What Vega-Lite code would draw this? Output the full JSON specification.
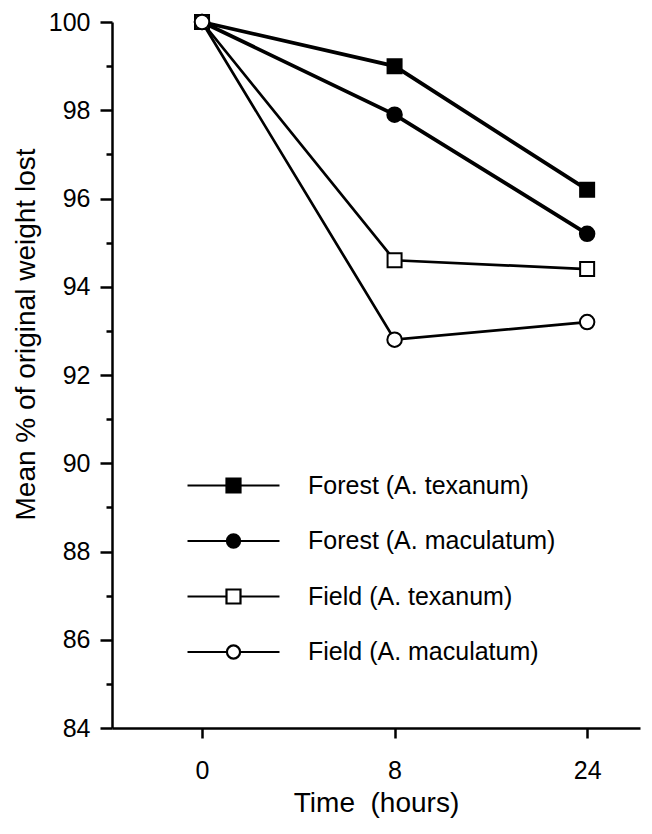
{
  "$schema": "https://vega.github.io/schema/vega-lite/v6.json",
  "width": 528,
  "height": 706,
  "autosize": {"type": "none"},
  "padding": {"left": 112, "top": 22, "right": 12, "bottom": 106},
  "background": "white",
  "config": {
    "view": {"stroke": null},
    "font": "Liberation Sans",
    "axis": {
      "grid": false,
      "domainColor": "black",
      "tickColor": "black",
      "labelColor": "black",
      "titleColor": "black",
      "domainWidth": 2.5,
      "tickWidth": 2.5,
      "labelFont": "Liberation Sans",
      "titleFont": "Liberation Sans",
      "titleFontWeight": "normal"
    },
    "legend": {"labelFont": "Liberation Sans"}
  },
  "data": {
    "values": [
      {"series": "Forest (A. texanum)", "habitat": "Forest", "species": "texanum", "time": "0", "value": 100},
      {"series": "Forest (A. texanum)", "habitat": "Forest", "species": "texanum", "time": "8", "value": 99.0},
      {"series": "Forest (A. texanum)", "habitat": "Forest", "species": "texanum", "time": "24", "value": 96.2},
      {"series": "Forest (A. maculatum)", "habitat": "Forest", "species": "maculatum", "time": "0", "value": 100},
      {"series": "Forest (A. maculatum)", "habitat": "Forest", "species": "maculatum", "time": "8", "value": 97.9},
      {"series": "Forest (A. maculatum)", "habitat": "Forest", "species": "maculatum", "time": "24", "value": 95.2},
      {"series": "Field (A. texanum)", "habitat": "Field", "species": "texanum", "time": "0", "value": 100},
      {"series": "Field (A. texanum)", "habitat": "Field", "species": "texanum", "time": "8", "value": 94.6},
      {"series": "Field (A. texanum)", "habitat": "Field", "species": "texanum", "time": "24", "value": 94.4},
      {"series": "Field (A. maculatum)", "habitat": "Field", "species": "maculatum", "time": "0", "value": 100},
      {"series": "Field (A. maculatum)", "habitat": "Field", "species": "maculatum", "time": "8", "value": 92.8},
      {"series": "Field (A. maculatum)", "habitat": "Field", "species": "maculatum", "time": "24", "value": 93.2}
    ]
  },
  "encoding": {
    "x": {
      "field": "time",
      "type": "ordinal",
      "sort": ["0", "8", "24"],
      "scale": {"type": "point", "padding": 0.371, "align": 0.63},
      "axis": {
        "title": "Time \u00a0(hours)",
        "titleFontSize": 28,
        "titlePadding": 6,
        "labelFontSize": 25,
        "labelAngle": 0,
        "labelPadding": 20,
        "tickSize": 10
      }
    },
    "y": {
      "field": "value",
      "type": "quantitative",
      "scale": {"domain": [84, 100], "nice": false, "zero": false},
      "axis": {
        "title": "Mean % of original weight lost",
        "titleFontSize": 28,
        "titlePadding": 8,
        "titleY": 312,
        "labelFontSize": 25,
        "labelPadding": 10,
        "values": [84, 85, 86, 87, 88, 89, 90, 91, 92, 93, 94, 95, 96, 97, 98, 99, 100],
        "labelExpr": "datum.value % 2 == 0 ? datum.label : ''",
        "tickSize": {"condition": {"test": "datum.value % 2 == 1", "value": 6}, "value": 12}
      }
    }
  },
  "layer": [
    {
      "mark": {"type": "line", "color": "black"},
      "encoding": {
        "detail": {"field": "series", "type": "nominal"},
        "strokeWidth": {"condition": {"test": "datum.habitat == 'Forest'", "value": 3.8}, "value": 2.7}
      }
    },
    {
      "mark": {"type": "point", "filled": true, "stroke": "black", "strokeWidth": 2, "opacity": 1},
      "encoding": {
        "shape": {
          "field": "series",
          "type": "nominal",
          "scale": {
            "domain": ["Forest (A. texanum)", "Forest (A. maculatum)", "Field (A. texanum)", "Field (A. maculatum)"],
            "range": ["square", "circle", "square", "circle"]
          },
          "legend": null
        },
        "fill": {
          "field": "series",
          "type": "nominal",
          "scale": {
            "domain": ["Forest (A. texanum)", "Forest (A. maculatum)", "Field (A. texanum)", "Field (A. maculatum)"],
            "range": ["black", "black", "white", "white"]
          },
          "legend": null
        },
        "size": {"condition": {"test": "datum.species == 'texanum'", "value": 196}, "value": 210}
      }
    },
    {
      "transform": [{"filter": "datum.value > 1000"}],
      "mark": {"type": "point", "filled": true, "strokeWidth": 2.2, "opacity": 1},
      "encoding": {
        "shape": {
          "field": "series",
          "type": "nominal",
          "scale": {
            "domain": ["Forest (A. texanum)", "Forest (A. maculatum)", "Field (A. texanum)", "Field (A. maculatum)"],
            "range": [
              "M-6.57,0H-1M1,0H6.57M-1,-1H1V1H-1Z",
              "M-6.57,0H-0.94M0.94,0H6.57M-0.94,0A0.94,0.94 0 1,0 0.94,0A0.94,0.94 0 1,0 -0.94,0Z",
              "M-6.57,0H-1M1,0H6.57M-1,-1H1V1H-1Z",
              "M-6.57,0H-0.94M0.94,0H6.57M-0.94,0A0.94,0.94 0 1,0 0.94,0A0.94,0.94 0 1,0 -0.94,0Z"
            ]
          },
          "legend": {
            "orient": "none",
            "legendX": 109,
            "legendY": 451,
            "title": null,
            "padding": 0,
            "labelFontSize": 25,
            "labelColor": "black",
            "labelLimit": 400,
            "labelOffset": 62,
            "rowPadding": 29.5,
            "symbolSize": 196,
            "symbolStrokeWidth": 2.2,
            "symbolStrokeColor": "black",
            "symbolOpacity": 1
          }
        },
        "fill": {
          "field": "series",
          "type": "nominal",
          "scale": {
            "domain": ["Forest (A. texanum)", "Forest (A. maculatum)", "Field (A. texanum)", "Field (A. maculatum)"],
            "range": ["black", "black", "white", "white"]
          },
          "legend": {
            "orient": "none",
            "legendX": 109,
            "legendY": 451,
            "title": null,
            "padding": 0,
            "labelFontSize": 25,
            "labelColor": "black",
            "labelLimit": 400,
            "labelOffset": 62,
            "rowPadding": 29.5,
            "symbolSize": 196,
            "symbolStrokeWidth": 2.2,
            "symbolStrokeColor": "black",
            "symbolOpacity": 1
          }
        },
        "stroke": {
          "field": "series",
          "type": "nominal",
          "scale": {
            "domain": ["Forest (A. texanum)", "Forest (A. maculatum)", "Field (A. texanum)", "Field (A. maculatum)"],
            "range": ["black", "black", "black", "black"]
          },
          "legend": {
            "orient": "none",
            "legendX": 109,
            "legendY": 451,
            "title": null,
            "padding": 0,
            "labelFontSize": 25,
            "labelColor": "black",
            "labelLimit": 400,
            "labelOffset": 62,
            "rowPadding": 29.5,
            "symbolSize": 196,
            "symbolStrokeWidth": 2.2,
            "symbolStrokeColor": "black",
            "symbolOpacity": 1
          }
        }
      }
    }
  ],
  "resolve": {"scale": {"shape": "independent", "fill": "independent", "stroke": "independent"}}
}
